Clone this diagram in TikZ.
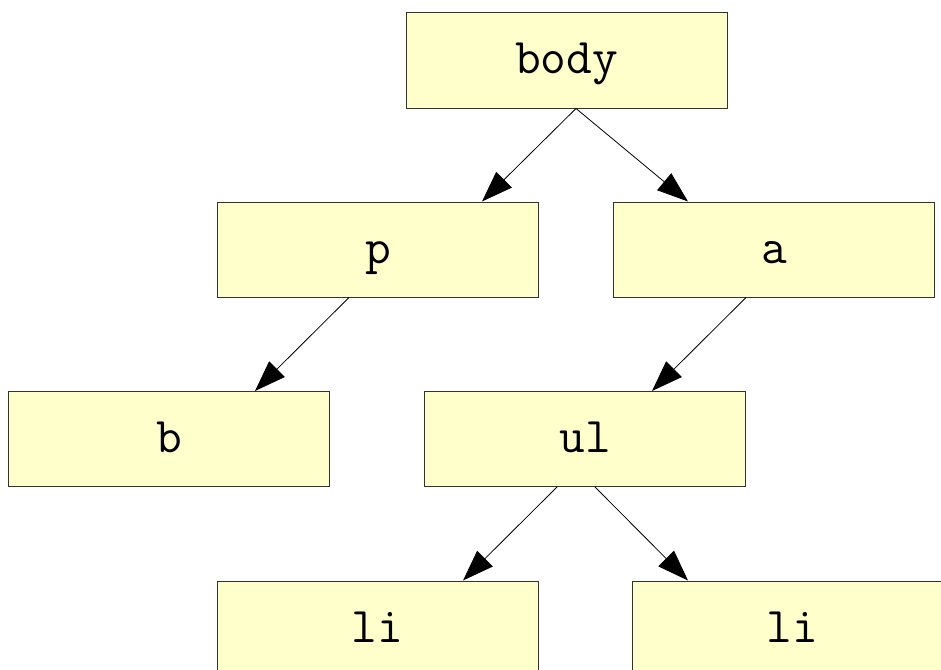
\documentclass[tikz,border=0pt]{standalone}
\usetikzlibrary{arrows.meta}

\definecolor{boxfill}{HTML}{FFFFCC}
\definecolor{boxline}{HTML}{333333}

\tikzset{
  tagbox/.style={draw=boxline, fill=boxfill, line width=1pt, inner sep=0pt,
    minimum width=321pt, text height=61pt, text depth=34pt,
    font=\ttfamily\fontsize{50}{50}\selectfont},
  edge/.style={draw=black, line width=0.8pt,
    -{Triangle[length=31pt, width=22pt]}, shorten >=0pt}
}

\begin{document}
\begin{tikzpicture}[x=1pt, y=-1pt]
  \useasboundingbox (0,0) rectangle (941,669);

  % element nodes of the document tree
  \node[tagbox] (body) at (566.5, 60.5)  {body};
  \node[tagbox] (p)    at (378,   249.5) {p};
  \node[tagbox] (a)    at (774,   249.5) {a};
  \node[tagbox] (b)    at (169,   439)   {b};
  \node[tagbox] (ul)   at (585,   439)   {ul};
  \node[tagbox] (li1)  at (377.5, 628.5) {li};
  \node[tagbox] (li2)  at (792.5, 628.5) {li};

  % parent -> child edges
  \draw[edge] ([xshift=9.5pt]body.south) -- ([xshift=104pt]p.north);
  \draw[edge] ([xshift=9.5pt]body.south) -- ([xshift=-86pt]a.north);
  \draw[edge] ([xshift=-29pt]p.south)    -- ([xshift=86pt]b.north);
  \draw[edge] ([xshift=-28pt]a.south)    -- ([xshift=67pt]ul.north);
  \draw[edge] ([xshift=-28pt]ul.south)   -- ([xshift=85.5pt]li1.north);
  \draw[edge] ([xshift=10pt]ul.south)    -- ([xshift=-104.5pt]li2.north);
\end{tikzpicture}
\end{document}
